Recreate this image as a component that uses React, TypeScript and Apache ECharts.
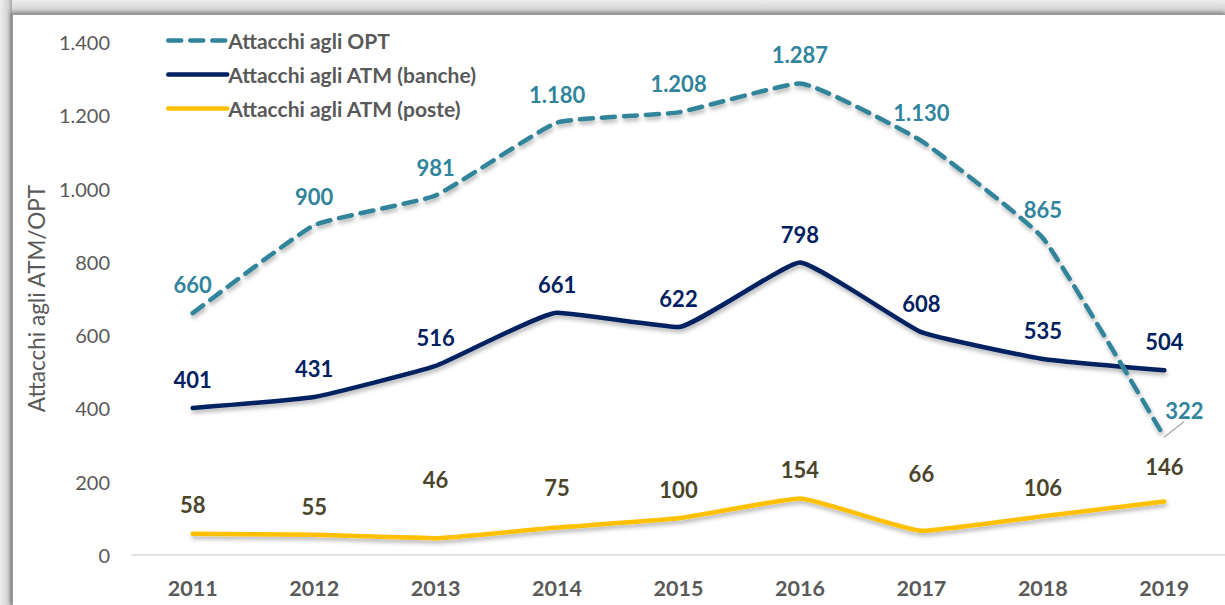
import React, { useEffect, useRef } from "react";
import * as echarts from "echarts";

const years = ["2011", "2012", "2013", "2014", "2015", "2016", "2017", "2018", "2019"];
const seriesNames = ["Attacchi agli OPT", "Attacchi agli ATM (banche)", "Attacchi agli ATM (poste)"];
const optValues = [660, 900, 981, 1180, 1208, 1287, 1130, 865, 322];
const bancheValues = [401, 431, 516, 661, 622, 798, 608, 535, 504];
const posteValues = [58, 55, 46, 75, 100, 154, 66, 106, 146];
// label distance above the point, per item (style only)
const posteLabelDist = [18, 17, 47, 29, 17, 18, 46, 17, 24];
const yAxisName = "Attacchi agli ATM/OPT";

const FONT = "Lato, 'Open Sans', sans-serif";
const fmt = (v: number) => String(v).replace(/\B(?=(\d{3})+(?!\d))/g, ".");

export default function App() {
  const ref = useRef<HTMLDivElement>(null);
  useEffect(() => {
    if (!ref.current) return;
    const chart = echarts.init(ref.current, null, { renderer: "svg" });
    const shadow = {
      shadowColor: "rgba(0,0,0,0.3)",
      shadowBlur: 4,
      shadowOffsetX: 1,
      shadowOffsetY: 3,
    };
    const labelBase = {
      show: true,
      position: "top" as const,
      distance: 17,
      fontFamily: FONT,
      fontWeight: "bold" as const,
      fontSize: 22,
      formatter: (p: any) => fmt(p.value),
    };
    chart.setOption({
      animation: false,
      textStyle: { fontFamily: FONT },
      grid: { left: 132, right: 0, top: 42, bottom: 50, containLabel: false },
      legend: {
        data: seriesNames,
        orient: "vertical",
        left: 161,
        top: 25,
        itemWidth: 59,
        itemHeight: 12,
        itemGap: 13,
        lineStyle: { width: 4.5 },
        itemStyle: { opacity: 0 },
        textStyle: { fontFamily: FONT, fontWeight: "bold", fontSize: 21, color: "#595959", padding: [0, 0, 0, -4] },
      },
      xAxis: {
        type: "category",
        data: years,
        boundaryGap: true,
        axisLine: { lineStyle: { color: "#d9d9d9", width: 1.5 } },
        axisTick: { show: false },
        axisLabel: { fontFamily: FONT, fontWeight: "bold", fontSize: 21.5, color: "#595959", margin: 22 },
      },
      yAxis: {
        type: "value",
        min: 0,
        max: 1400,
        interval: 200,
        name: yAxisName,
        nameLocation: "middle",
        nameGap: 84,
        nameTextStyle: { fontFamily: FONT, fontSize: 22.5, color: "#595959" },
        axisLine: { show: false },
        axisTick: { show: false },
        splitLine: { show: false },
        axisLabel: { fontFamily: FONT, fontSize: 20, color: "#595959", margin: 22, formatter: (v: number) => fmt(v) },
      },
      series: [
        {
          name: seriesNames[0],
          type: "line",
          data: optValues.map((v, i) =>
            i === 8
              ? {
                  value: v,
                  label: { distance: 8 },
                  labelLine: { show: true, lineStyle: { color: "#a6a6a6", width: 1.2 } },
                }
              : v
          ),
          smooth: 0.12,
          symbol: "circle",
          symbolSize: 1,
          lineStyle: { color: "#31849b", width: 4.5, type: [13, 9], cap: "round", ...shadow },
          itemStyle: { color: "#31849b" },
          label: { ...labelBase, color: "#31849b" },
          labelLayout: (p: any) => (p.dataIndex === 8 ? { dx: 20, dy: -7 } : {}),
          z: 3,
        },
        {
          name: seriesNames[1],
          type: "line",
          data: bancheValues,
          smooth: 0.12,
          symbol: "circle",
          symbolSize: 1,
          lineStyle: { color: "#002060", width: 4.5, cap: "round", ...shadow },
          itemStyle: { color: "#002060" },
          label: { ...labelBase, color: "#002060" },
          z: 2,
        },
        {
          name: seriesNames[2],
          type: "line",
          data: posteValues.map((v, i) => ({ value: v, label: { distance: posteLabelDist[i] } })),
          smooth: 0.12,
          symbol: "circle",
          symbolSize: 1,
          lineStyle: { color: "#ffc000", width: 4.5, cap: "round", ...shadow },
          itemStyle: { color: "#ffc000" },
          label: { ...labelBase, color: "#4a452a" },
          z: 1,
        },
      ],
    });
    return () => chart.dispose();
  }, []);

  return (
    <div
      style={{
        position: "fixed",
        left: 0,
        top: 0,
        width: 1225,
        height: 605,
        overflow: "hidden",
        background: "linear-gradient(180deg, #eeeeee 0px, #d4d4d4 10px, #b8b8b8 14px)",
      }}
    >
      <div
        style={{
          position: "absolute",
          left: 0,
          top: 0,
          width: 12,
          height: 605,
          background: "linear-gradient(90deg, #eeeeee 0px, #d4d4d4 8px, #a8a8a8 12px)",
        }}
      />
      <div
        style={{
          position: "absolute",
          left: 12,
          top: 14,
          width: 1213,
          height: 591,
          background: "#ffffff",
          borderTop: "1px solid #9a9a9a",
          borderLeft: "1px solid #9a9a9a",
          boxShadow: "-2px -2px 4px rgba(0,0,0,0.25)",
        }}
      />
      <div ref={ref} style={{ position: "absolute", left: 0, top: 0, width: 1225, height: 605 }} />
    </div>
  );
}
